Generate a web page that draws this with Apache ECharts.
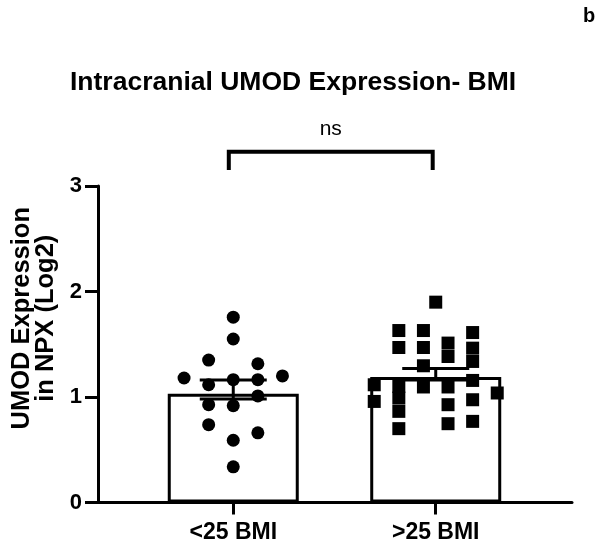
<!DOCTYPE html>
<html>
<head>
<meta charset="utf-8">
<script src="https://cdn.jsdelivr.net/npm/echarts@6/dist/echarts.min.js"></script>
<style>html,body{margin:0;padding:0;background:#fff}#chart{width:600px;height:546px}</style>
</head>
<body>
<div id="chart"></div>
<script>
// ---- data ----
const categories = ['<25 BMI', '>25 BMI'];
const barMeans = [1.03, 1.19];
const errLow = [0.98, 1.16];
const errHigh = [1.16, 1.27];
const lowBmiValues = [1.757, 1.55, 1.35, 1.315, 1.18, 1.20, 1.116, 1.164, 1.164, 1.01, 0.927, 0.918, 0.738, 0.66, 0.59, 0.338];
const lowBmiCols   = [0, 0, -1, 1, -2, 2, -1, 0, 1, 1, -1, 0, -1, 1, 0, 0];
const highBmiValues = [1.899, 1.63, 1.63, 1.611, 1.469, 1.469, 1.511, 1.384, 1.463, 1.337, 1.296, 1.116, 0.958, 1.10, 0.99, 0.864, 0.70, 1.095, 1.095, 0.927, 0.747, 1.157, 0.974, 0.769, 1.038];
const highBmiCols   = [0, -1.5, -0.5, 1.5, -1.5, -0.5, 0.5, 0.5, 1.5, 1.5, -0.5, -2.5, -2.5, -1.5, -1.5, -1.5, -1.5, -0.5, 0.5, 0.5, 0.5, 1.5, 1.5, 1.5, 2.5];
const yTicks = [0, 1, 2, 3];
const sigLabel = 'ns';
const sigBracket = [[-0.022, 0.985, 3.325, 3.152]];

// ---- style / layout ----
const FONT = 'Liberation Sans';
const JITTER = 0.1215;

const chart = echarts.init(document.getElementById('chart'), null, {renderer: 'canvas'});

const lowPts = lowBmiValues.map((v, i) => [0 + lowBmiCols[i] * JITTER, v]);
const highPts = highBmiValues.map((v, i) => [1 + highBmiCols[i] * JITTER, v]);
const barData = barMeans.map((v, i) => [i, v]);
const errData = errLow.map((v, i) => [i, v, errHigh[i]]);

const option = {
  animation: false,
  backgroundColor: '#fff',
  title: [
    {text: 'Intracranial UMOD Expression- BMI', left: 65, top: 64,
     textStyle: {fontFamily: FONT, fontSize: 26.5, fontWeight: 'bold', color: '#000'}},
    {text: 'b', left: 578, top: 1,
     textStyle: {fontFamily: FONT, fontSize: 20, fontWeight: 'bold', color: '#000'}}
  ],
  grid: {left: 98, right: 28, top: 186, bottom: 43.5, containLabel: false},
  xAxis: {
    type: 'value', min: -0.668, max: 1.673,
    splitLine: {show: false},
    axisLine: {show: true, onZero: false, lineStyle: {color: '#000', width: 3}},
    axisTick: {show: true, customValues: [0, 1], length: 12, lineStyle: {color: '#000', width: 3}},
    axisLabel: {show: true, customValues: [0, 1], margin: 19,
      formatter: v => categories[Math.round(v)] || '',
      fontFamily: FONT, fontSize: 23, fontWeight: 'bold', color: '#000'}
  },
  yAxis: {
    type: 'value', min: yTicks[0], max: yTicks[yTicks.length - 1], interval: 1,
    splitLine: {show: false},
    axisLine: {show: true, onZero: false, lineStyle: {color: '#000', width: 3}},
    axisTick: {show: true, length: 13, lineStyle: {color: '#000', width: 3}},
    axisLabel: {margin: 16, fontFamily: FONT, fontSize: 22, fontWeight: 'bold', color: '#000'},
    name: 'UMOD Expression\nin NPX (Log2)',
    nameLocation: 'middle', nameRotate: 90, nameGap: 40,
    nameTextStyle: {fontFamily: FONT, fontSize: 25.5, fontWeight: 'bold', color: '#000', lineHeight: 24, padding: [0, 0, 0, 52]}
  },
  series: [
    {type: 'bar', data: barData, barWidth: 131, z: 2,
     itemStyle: {color: '#fff', borderColor: '#000', borderWidth: 3}},
    {type: 'scatter', data: lowPts, symbol: 'circle', symbolSize: 13, z: 3,
     itemStyle: {color: '#000', opacity: 1}},
    {type: 'scatter', data: highPts, symbol: 'rect', symbolSize: 13, z: 3,
     itemStyle: {color: '#000', opacity: 1}},
    {type: 'custom', data: errData, z: 4, clip: false,
     renderItem: (params, api) => {
       const x = api.value(0);
       const lo = api.coord([x, api.value(1)]);
       const hi = api.coord([x, api.value(2)]);
       const hw = 33.5;
       const st = {stroke: '#000', lineWidth: 3, fill: null};
       return {type: 'group', children: [
         {type: 'line', shape: {x1: lo[0], y1: lo[1], x2: hi[0], y2: hi[1]}, style: st},
         {type: 'line', shape: {x1: hi[0] - hw, y1: hi[1], x2: hi[0] + hw, y2: hi[1]}, style: st},
         {type: 'line', shape: {x1: lo[0] - hw, y1: lo[1], x2: lo[0] + hw, y2: lo[1]}, style: st}
       ]};
     }},
    {type: 'custom', data: sigBracket, z: 5, clip: false,
     renderItem: (params, api) => {
       const a = api.coord([api.value(0), api.value(3)]);
       const b = api.coord([api.value(0), api.value(2)]);
       const c = api.coord([api.value(1), api.value(2)]);
       const d = api.coord([api.value(1), api.value(3)]);
       return {type: 'group', children: [
         {type: 'polyline', shape: {points: [a, b, c, d]},
          style: {stroke: '#000', lineWidth: 4, fill: null, lineJoin: 'miter'}},
         {type: 'text', x: (b[0] + c[0]) / 2, y: b[1] - 12,
          style: {text: sigLabel, fontFamily: FONT, fontSize: 21, fill: '#000', align: 'center', verticalAlign: 'bottom'}}
       ]};
     }}
  ]
};
chart.setOption(option);
</script>
</body>
</html>
